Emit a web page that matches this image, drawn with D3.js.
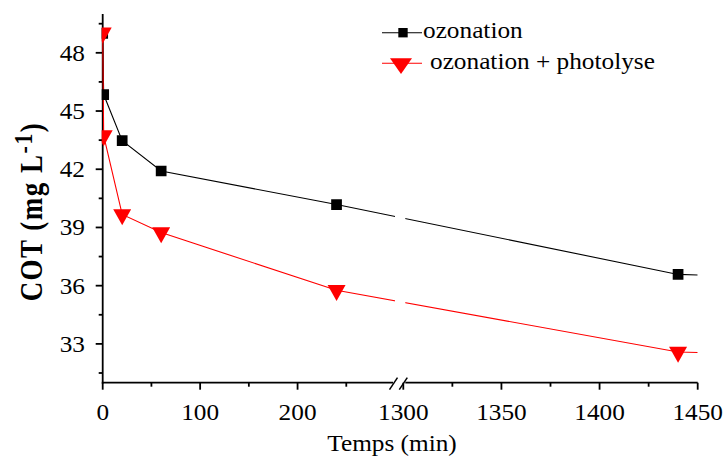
<!DOCTYPE html>
<html>
<head>
<meta charset="utf-8">
<script src="https://cdnjs.cloudflare.com/ajax/libs/d3/7.8.5/d3.min.js"></script>
<style>
  html, body { margin: 0; padding: 0; background: #fff; }
  text { font-family: "Liberation Serif", "Times New Roman", serif; fill: #000; }
</style>
</head>
<body>
<div id="viz"></div>
<script>
// time points (min) and COT values (mg/L)
const times = [0, 1, 20, 60, 240, 1440];
const cotOzonation = [49.0, 45.85, 43.47, 41.91, 40.18, 36.58];
const cotOzoPhoto = [49.03, 43.73, 39.67, 38.74, 35.76, 32.58];

const seriesNames = ['ozonation', 'ozonation + photolyse'];
const seriesColors = ['#000000', '#ff0000'];

const xTicksLow = [0, 100, 200];
const xMinorLow = [50, 150, 250];
const xTicksHigh = [1300, 1350, 1400, 1450];
const xMinorHigh = [1325, 1375, 1425];
const yTicks = [33, 36, 39, 42, 45, 48];
const yMinor = [31.5, 34.5, 37.5, 40.5, 43.5, 46.5, 49.5];

function buildChart(containerId) {
    const width = 728;
    const height = 457;

    const plot = { left: 102.7, right: 697.7, top: 14, bottom: 382.7 };
    const breakAt = { lowEnd: 395, highStart: 403.3 };

    const svg = d3.select(containerId)
        .append('svg')
        .attr('width', width)
        .attr('height', height);

    // broken x axis: two linear pieces
    const xLow = d3.scaleLinear().domain([0, 300]).range([plot.left, breakAt.lowEnd]);
    const xHigh = d3.scaleLinear().domain([1300, 1450]).range([breakAt.highStart, plot.right]);
    const x = v => v <= 300 ? xLow(v) : xHigh(v);

    const y = d3.scaleLinear().domain([31, 50]).range([plot.bottom, plot.top]);

    // clip: two panels, leaving the gap at the break
    const defs = svg.append('defs');
    const clip = defs.append('clipPath').attr('id', 'plot-clip');
    clip.append('rect')
        .attr('x', plot.left - 1).attr('y', plot.top)
        .attr('width', breakAt.lowEnd - plot.left + 1)
        .attr('height', plot.bottom - plot.top);
    clip.append('rect')
        .attr('x', breakAt.highStart + 2).attr('y', plot.top)
        .attr('width', plot.right - breakAt.highStart - 2)
        .attr('height', plot.bottom - plot.top);

    // axes
    const axisG = svg.append('g').attr('stroke', '#000').attr('stroke-width', 1.8);

    axisG.append('line')
        .attr('x1', plot.left).attr('x2', plot.left)
        .attr('y1', plot.top).attr('y2', plot.bottom + 0.9);

    axisG.append('line')
        .attr('x1', plot.left - 0.9).attr('x2', breakAt.lowEnd - 2)
        .attr('y1', plot.bottom).attr('y2', plot.bottom);
    axisG.append('line')
        .attr('x1', breakAt.highStart + 2).attr('x2', plot.right)
        .attr('y1', plot.bottom).attr('y2', plot.bottom);

    // break marks
    [breakAt.lowEnd - 1.5, breakAt.highStart].forEach(cx => {
        axisG.append('line')
            .attr('stroke-width', 1.5)
            .attr('x1', cx - 4).attr('y1', plot.bottom + 7)
            .attr('x2', cx + 4).attr('y2', plot.bottom - 5);
    });

    const xMajor = xTicksLow.map(xLow).concat(xTicksHigh.map(xHigh));
    const xMinorPx = xMinorLow.map(xLow).concat(xMinorHigh.map(xHigh));

    axisG.selectAll('.xt')
        .data(xMajor)
        .enter()
        .append('line')
        .attr('x1', d => d).attr('x2', d => d)
        .attr('y1', plot.bottom).attr('y2', plot.bottom + 7);
    axisG.selectAll('.xm')
        .data(xMinorPx)
        .enter()
        .append('line')
        .attr('x1', d => d).attr('x2', d => d)
        .attr('y1', plot.bottom).attr('y2', plot.bottom + 4);

    axisG.selectAll('.yt')
        .data(yTicks)
        .enter()
        .append('line')
        .attr('x1', plot.left - 7).attr('x2', plot.left)
        .attr('y1', d => y(d)).attr('y2', d => y(d));
    axisG.selectAll('.ym')
        .data(yMinor)
        .enter()
        .append('line')
        .attr('x1', plot.left - 4).attr('x2', plot.left)
        .attr('y1', d => y(d)).attr('y2', d => y(d));

    // series
    const data = [cotOzonation, cotOzoPhoto].map((vals, i) => ({
        name: seriesNames[i],
        color: seriesColors[i],
        points: times.map((t, j) => ({ t: t, v: vals[j] }))
    }));

    const line = d3.line()
        .x(d => d.px)
        .y(d => d.py)
        .curve(d3.curveLinear);

    const plotG = svg.append('g').attr('clip-path', 'url(#plot-clip)');

    data.forEach(s => {
        const pts = s.points.map(d => ({ px: x(d.t), py: y(d.v) }));
        // continue the last segment linearly up to the end of the axis
        const n = s.points.length;
        const a = s.points[n - 2], b = s.points[n - 1];
        const slope = (b.v - a.v) / (b.t - a.t);
        pts.push({ px: xHigh(1450), py: y(b.v + slope * (1450 - b.t)) });

        plotG.append('path')
            .datum(pts)
            .attr('fill', 'none')
            .attr('stroke', s.color)
            .attr('stroke-width', 1.1)
            .attr('d', line);
    });

    const square = d3.symbol().type(d3.symbolSquare).size(115);
    const tri = 'M-9,-5.3L9,-5.3L0,10.7Z';

    plotG.selectAll('.m-ozo')
        .data(data[0].points)
        .enter()
        .append('path')
        .attr('class', 'm-ozo')
        .attr('transform', d => `translate(${x(d.t)},${y(d.v)})`)
        .attr('d', square)
        .attr('fill', seriesColors[0]);

    plotG.selectAll('.m-photo')
        .data(data[1].points)
        .enter()
        .append('path')
        .attr('class', 'm-photo')
        .attr('transform', d => `translate(${x(d.t)},${y(d.v)})`)
        .attr('d', tri)
        .attr('fill', seriesColors[1]);

    // tick labels
    const xLabels = xTicksLow.map(v => ({ v: v, px: xLow(v) }))
        .concat(xTicksHigh.map(v => ({ v: v, px: xHigh(v) })));

    svg.selectAll('.xl')
        .data(xLabels)
        .enter()
        .append('text')
        .attr('transform', d => `translate(${d.px},420) scale(1.1,1)`)
        .attr('text-anchor', 'middle')
        .attr('font-size', 23)
        .text(d => d.v);

    svg.selectAll('.yl')
        .data(yTicks)
        .enter()
        .append('text')
        .attr('transform', d => `translate(85,${y(d) + 8}) scale(1.1,1)`)
        .attr('text-anchor', 'end')
        .attr('font-size', 23)
        .text(d => d);

    // axis titles
    svg.append('text')
        .attr('transform', 'translate(392,451) scale(1.1,1)')
        .attr('text-anchor', 'middle')
        .attr('font-size', 23)
        .text('Temps (min)');

    const yTitle = svg.append('text')
        .attr('transform', 'translate(42,211.5) scale(1.15,1) rotate(-90)')
        .attr('text-anchor', 'middle')
        .attr('font-size', 27)
        .attr('font-weight', 'bold')
        .attr('letter-spacing', 1.5);
    yTitle.append('tspan').text('COT (mg L');
    yTitle.append('tspan').attr('dy', -9).attr('font-size', 22).text('-1');
    yTitle.append('tspan').attr('dy', 9).text(')');

    // legend
    const legend = svg.append('g');
    const rows = [
        { y: 32.7, textX: 423, markX: 403, shape: d3.symbol().type(d3.symbolSquare).size(88)() },
        { y: 63.3, textX: 430, markX: 401, shape: 'M-11,-5L11,-5L0,10.7Z' }
    ];
    rows.forEach((r, i) => {
        legend.append('line')
            .attr('x1', 382).attr('x2', 422)
            .attr('y1', r.y).attr('y2', r.y)
            .attr('stroke', seriesColors[i])
            .attr('stroke-width', 1.1);
        legend.append('path')
            .attr('transform', `translate(${r.markX},${r.y})`)
            .attr('d', r.shape)
            .attr('fill', seriesColors[i]);
        legend.append('text')
            .attr('transform', `translate(${r.textX},${r.y + 5.5}) scale(1.1,1)`)
            .attr('font-size', 23)
            .text(seriesNames[i]);
    });
}

buildChart('#viz');
</script>
</body>
</html>
